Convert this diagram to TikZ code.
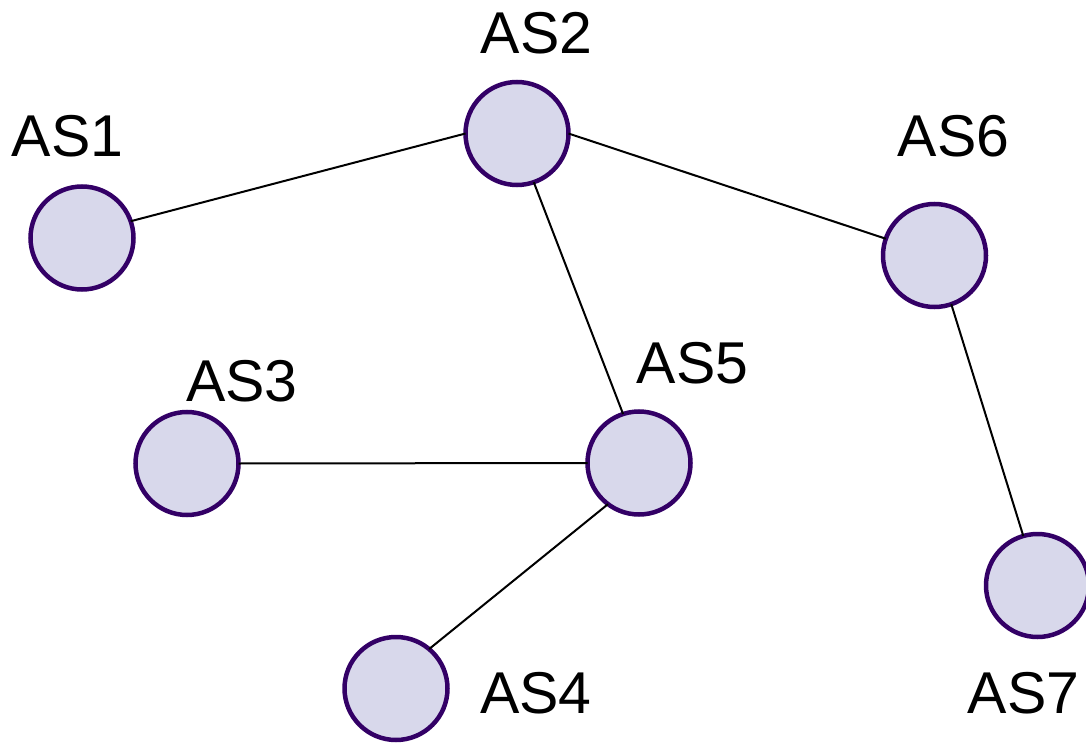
\documentclass[tikz,border=0pt]{standalone}
\usepackage{fontspec}
\setmainfont{Liberation Sans}
\definecolor{asfill}{RGB}{216,216,235}
\definecolor{asline}{RGB}{51,0,102}
\begin{document}
\begin{tikzpicture}[x=1pt,y=-1pt,
  asnode/.style={circle,draw=asline,fill=asfill,line width=4.5pt,minimum size=103pt,inner sep=0pt,outer sep=0pt},
  aslabel/.style={anchor=base,inner sep=0pt,font=\fontsize{59}{70}\selectfont},
  link/.style={line width=2pt,black}]
\useasboundingbox (0,0) rectangle (1086,743);
\node[asnode] (as1) at (82,238) {};
\node[asnode] (as2) at (517,133.5) {};
\node[asnode] (as6) at (934.5,255.5) {};
\node[asnode] (as3) at (187,463.5) {};
\node[asnode] (as5) at (639,463) {};
\node[asnode] (as4) at (396,688.5) {};
\node[asnode] (as7) at (1037.5,585.5) {};
\node[aslabel] (l1) at (67.5,157) {AS1};
\node[aslabel] (l2) at (536.5,54) {AS2};
\node[aslabel] (l6) at (953.5,157) {AS6};
\node[aslabel] (l3) at (242,401) {AS3};
\node[aslabel] (l5) at (692.5,383) {AS5};
\node[aslabel] (l4) at (536,713) {AS4};
\node[aslabel] (l7) at (1023.5,713) {AS7};
\draw[link] (as1.19) -- (as2.180);
\draw[link] (as2.0) -- (as6.161);
\draw[link] (as2.289) -- (as5.108);
\draw[link] (as6.-71) -- (as7.106);
\draw[link] (as3.0) -- (as5.180);
\draw[link] (as5.-127) -- (as4.50);
\end{tikzpicture}
\end{document}
